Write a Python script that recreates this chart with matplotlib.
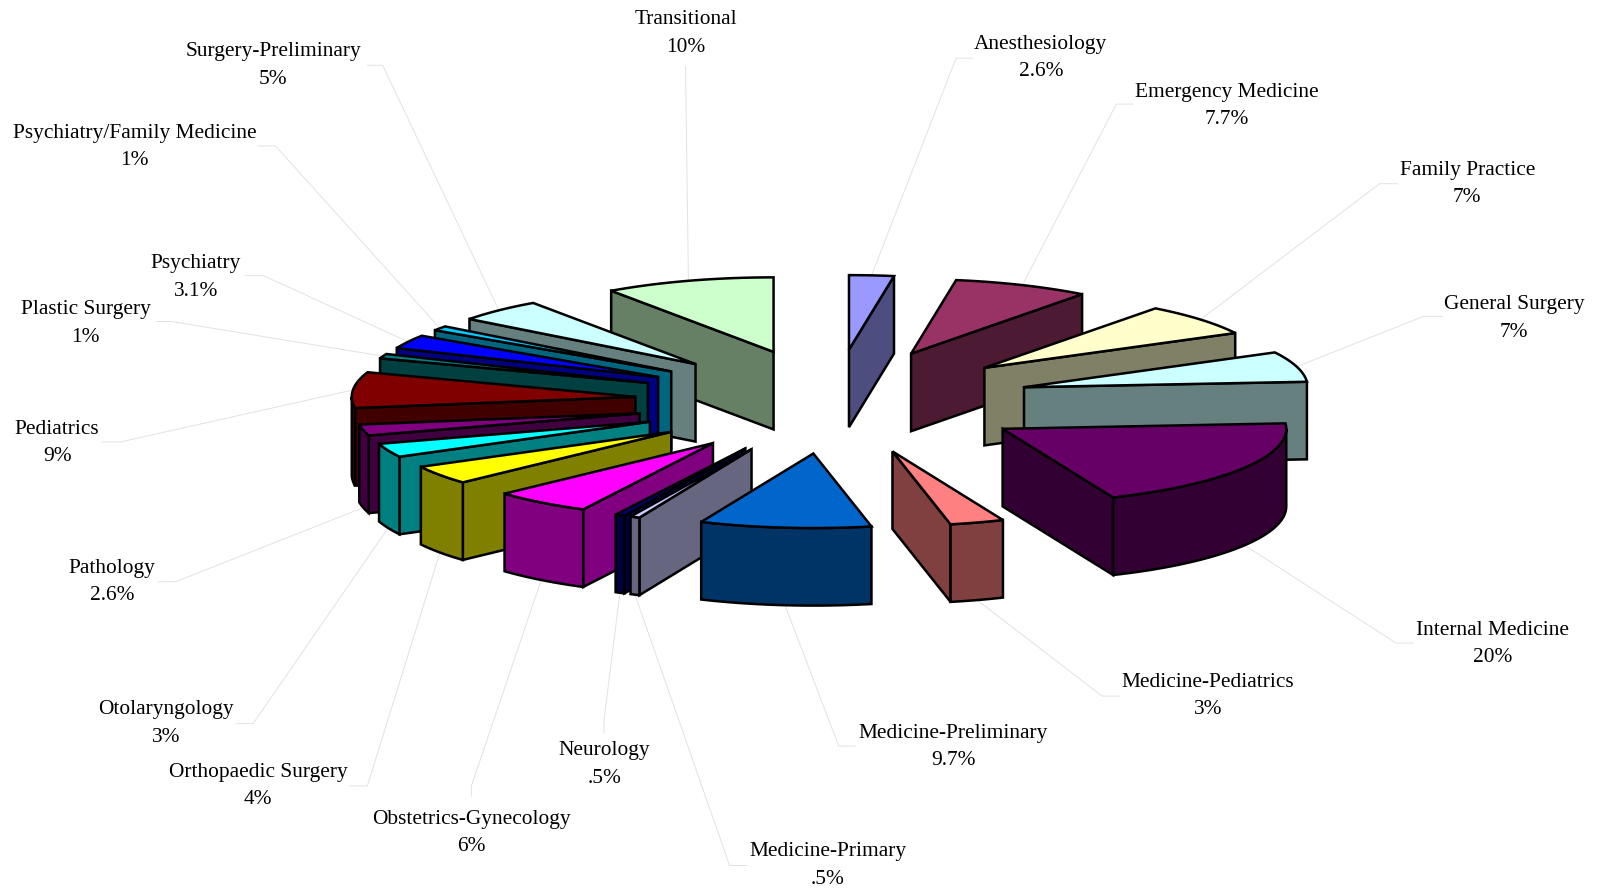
# exploded 3D pie of residency programs, drawn by hand because matplotlib has no flat 3D pie
import numpy as np
import matplotlib
matplotlib.use("Agg")
import matplotlib.pyplot as plt

plt.rcParams['font.family'] = ['Liberation Serif', 'DejaVu Serif']

names = ["Anesthesiology", "Emergency Medicine", "Family Practice", "General Surgery",
         "Internal Medicine", "Medicine-Pediatrics", "Medicine-Preliminary", "Medicine-Primary",
         "Neurology", "Obstetrics-Gynecology", "Orthopaedic Surgery", "Otolaryngology",
         "Pathology", "Pediatrics", "Plastic Surgery", "Psychiatry",
         "Psychiatry/Family Medicine", "Surgery-Preliminary", "Transitional"]
# wedge sizes, the printed labels are rounded differently
values = [2.55, 7.8, 7, 6.6, 19.9, 3.1, 9.8, .55, .55, 5.6, 4.1, 3, 2.4, 7.8, 1, 3, 1, 5, 9.75]
value_labels = ["2.6%", "7.7%", "7%", "7%", "20%", "3%", "9.7%", ".5%", ".5%", "6%",
                "4%", "3%", "2.6%", "9%", "1%", "3.1%", "1%", "5%", "10%"]
top_colors = ["#9999FF", "#993366", "#FFFFCC", "#CCFFFF", "#660066", "#FF8080", "#0066CC", "#CCCCFF",
              "#000080", "#FF00FF", "#FFFF00", "#00FFFF", "#800080", "#800000", "#008080", "#0000FF",
              "#00CCFF", "#CCFFFF", "#CCFFCC"]

# label centre, then where the leader starts and bends
label_xy = [(1020, 57), (1202, 104), (1438, 180), (1484, 312), (1463, 631), (1184, 682), (934, 732),
            (811, 848), (592, 749), (462, 816), (253, 770), (163, 709), (110, 570), (56, 434),
            (84, 317), (192, 272), (132, 144), (268, 64), (672, 33)]
leader_start = [(953, 57), (1110, 102), (1370, 180), (1414, 310), (1385, 630), (1097, 682), (838, 731),
                (732, 848), (592, 718), (462, 780), (343, 770), (232, 709), (155, 570), (100, 433),
                (153, 315), (240, 270), (253, 143), (360, 64), (672, 65)]
leader_bend = [(937, 57), (1094, 102), (1352, 180), (1395, 310), (1368, 630), (1080, 682), (822, 731),
               (715, 848), (592, 705), (462, 770), (360, 770), (248, 709), (172, 570), (118, 433),
               (168, 315), (258, 270), (270, 143), (375, 64), (672, 80)]

cx, cy = 816.5, 393.5
rx, ry = 278, 73
explode = 0.70
height = 76


def darken(color):
    r, g, b = matplotlib.colors.to_rgb(color)
    return (r / 2, g / 2, b / 2)


def rim(a, ox, oy):
    a = np.radians(a)
    return ox + rx * np.sin(a), oy - ry * np.cos(a)


fig = plt.figure(figsize=(16, 8.9), dpi=100)
ax = fig.add_axes([0, 0, 1, 1])
ax.set_xlim(0, 1568)
ax.set_ylim(872, 0)
ax.axis("off")

edges = np.cumsum([0] + values) / sum(values) * 360
mids = (edges[:-1] + edges[1:]) / 2
off_x = cx + explode * rx * np.sin(np.radians(mids))
off_y = cy - explode * ry * np.cos(np.radians(mids))

for i, name in enumerate(names):
    ex, ey = rim(mids[i], off_x[i], off_y[i])
    if 90 < mids[i] < 270:
        ey += height
    ax.plot([leader_start[i][0], leader_bend[i][0], ex], [leader_start[i][1], leader_bend[i][1], ey],
            color="#E2E2E2", lw=0.7, zorder=1)
    ax.text(label_xy[i][0], label_xy[i][1], name + "\n" + value_labels[i], ha="center", va="center",
            fontsize=15.4, linespacing=1.6, color="black", zorder=3)

edge_style = dict(edgecolor="black", linewidth=1.8, joinstyle="miter", zorder=2)

# back slices first so the front ones cover them
for i in np.argsort(-np.cos(np.radians(mids))):
    a0, a1 = edges[i], edges[i + 1]
    ox, oy = off_x[i], off_y[i]
    side = darken(top_colors[i])

    if 0 < a1 <= 180:
        px, py = rim(a1, ox, oy)
        ax.fill([ox, px, px, ox], [oy, py, py + height, oy + height], facecolor=side, **edge_style)
    if 180 <= a0 < 360:
        px, py = rim(a0, ox, oy)
        ax.fill([ox, px, px, ox], [oy, py, py + height, oy + height], facecolor=side, **edge_style)

    w0, w1 = max(a0, 90), min(a1, 270)
    if w1 > w0:
        xs, ys = rim(np.linspace(w0, w1, 40), ox, oy)
        ax.fill(np.r_[xs, xs[::-1]], np.r_[ys, ys[::-1] + height], facecolor=side, **edge_style)

    xs, ys = rim(np.linspace(a0, a1, 60), ox, oy)
    ax.fill(np.r_[ox, xs], np.r_[oy, ys], facecolor=top_colors[i], **edge_style)

fig.savefig("out.png", dpi=100)
